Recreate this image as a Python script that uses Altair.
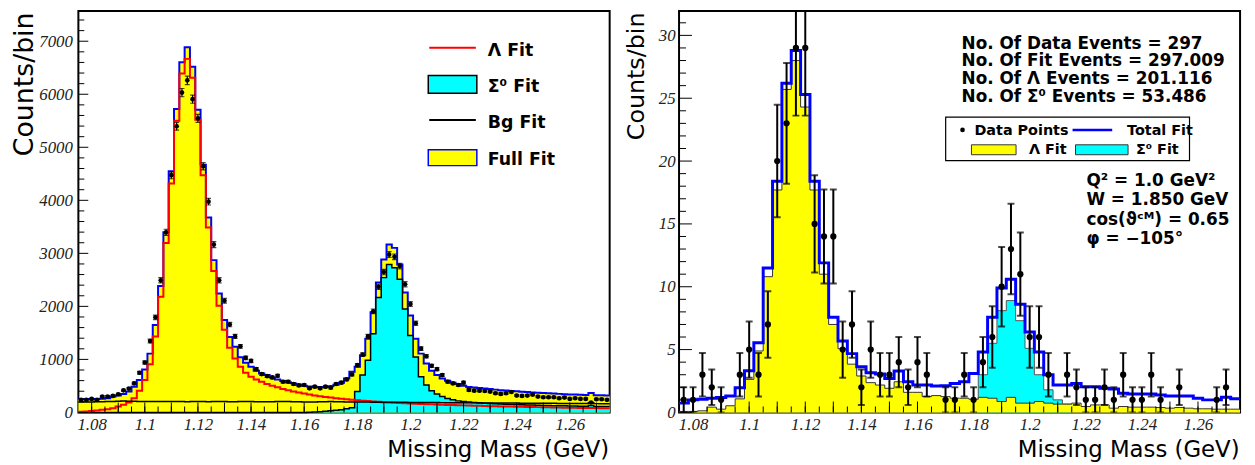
import altair as alt
import numpy as np
import pandas as pd

X_LO, X_HI = 1.075, 1.275
X_LABELS = [1.08, 1.10, 1.12, 1.14, 1.16, 1.18, 1.20, 1.22, 1.24, 1.26]

# ---------------- left panel: 100 bins of 0.002 GeV ----------------
L_BIN = 0.002
L_full = [255, 255, 250, 255, 258, 268, 299, 318, 349, 393,
          486, 610, 810, 1109, 1650, 2386, 3396, 4548, 5720, 6604,
          6885, 6517, 5707, 4673, 3676, 2872, 2243, 1745, 1421, 1240,
          1040, 935, 860, 785, 735, 704, 660, 623, 592, 567,
          548, 523, 505, 490, 480, 478, 478, 495, 520, 560,
          640, 766, 860, 1078, 1389, 1888, 2449, 2885, 3165, 3103,
          2791, 2262, 1826, 1389, 1109, 922, 785, 704, 642, 598,
          561, 536, 505, 480, 470, 460, 450, 440, 430, 420,
          412, 405, 398, 390, 385, 378, 372, 366, 360, 355,
          350, 345, 340, 336, 332, 330, 365, 326, 322, 320]
L_lambda = [12, 19, 25, 37, 50, 62, 81, 112, 143, 187,
            268, 411, 611, 910, 1433, 2181, 3196, 4318, 5502, 6393,
            6667, 6312, 5520, 4474, 3489, 2667, 2012, 1558, 1221, 1016,
            860, 748, 673, 623, 579, 536, 505, 474, 442, 417,
            393, 374, 355, 336, 320, 305, 292, 280, 268, 258,
            248, 240, 232, 222, 215, 208, 200, 194, 188, 183,
            178, 173, 168, 164, 160, 156, 152, 148, 145, 142,
            139, 136, 133, 130, 127, 124, 121, 118, 116, 114,
            112, 110, 108, 106, 104, 102, 100, 98, 96, 94,
            92, 90, 88, 86, 85, 84, 83, 82, 81, 80]
L_sigma = [0] * 43 + [5, 10, 15, 22, 30, 40, 52, 68, 90,
                      393, 704, 984, 1483, 2168, 2542, 2791, 2729, 2511, 1950,
                      1452, 1047, 673, 517, 411, 349, 299, 262, 237, 218,
                      206, 196, 188, 181, 175, 170, 165, 160, 156, 152,
                      148, 145, 142, 139, 136, 133, 130, 128, 126, 124,
                      122, 120, 118, 116, 130, 113, 111, 110]
L_bg = [195, 195, 198, 200, 202, 205, 208, 212, 215, 212,
        210, 208, 206, 205, 205, 204, 206, 208, 205, 204,
        203, 205, 206, 204, 203, 205, 207, 205, 203, 202,
        204, 206, 204, 202, 200, 201, 203, 205, 206, 204,
        202, 200, 198, 197, 198, 200, 202, 204, 203, 200,
        198, 197, 196, 195, 195, 194, 193, 192, 192, 191,
        190, 190, 189, 188, 188, 187, 186, 186, 185, 184,
        184, 183, 182, 182, 181, 180, 180, 179, 178, 178,
        177, 176, 176, 175, 174, 174, 173, 172, 172, 171,
        170, 170, 169, 168, 168, 167, 185, 166, 165, 164]
L_data = [237, 237, 255, 237, 299, 299, 311, 343, 417, 449,
          548, 748, 941, 1346, 1794, 2492, 3396, 4474, 5396, 6031,
          6262, 5907, 5545, 4642, 3975, 3165, 2492, 2106, 1657, 1433,
          1246, 1028, 972, 816, 723, 685, 660, 692, 579, 579,
          536, 511, 517, 455, 486, 455, 486, 467, 536, 561,
          623, 716, 891, 1090, 1433, 1907, 2368, 2648, 2978, 2934,
          2760, 2417, 2044, 1682, 1202, 1059, 878, 816, 704, 579,
          548, 517, 561, 424, 411, 411, 405, 393, 361, 349,
          361, 386, 318, 311, 318, 336, 299, 287, 287, 287,
          268, 280, 255, 268, 255, 255, 187, 249, 249, 237]

# ---------------- right panel: 60 bins ----------------
R_BIN = 0.2 / 60
R_total = [0.74, 1.0, 1.05, 1.13, 1.18, 1.31, 1.97, 3.31, 5.55, 11.5,
           18.4, 26.2, 28.8, 25.3, 18.4, 11.9, 7.57, 5.68, 4.68, 3.63,
           3.15, 3.05, 2.7, 3.3, 2.45, 2.18, 2.18, 2.1, 2.13, 2.3,
           2.44, 3.1, 4.81, 7.57, 9.9, 10.6, 8.6, 6.4, 4.8, 3.0,
           2.18, 2.18, 2.31, 2.05, 2.05, 1.92, 1.87, 1.52, 1.47, 1.47,
           1.47, 1.39, 1.31, 1.31, 1.31, 1.13, 1.0, 1.0, 1.2, 1.08]
R_lambda = [0.08, 0.08, 0.13, 0.42, 0.26, 0.53, 1.08, 2.63, 4.89, 10.8,
            17.7, 25.7, 28.0, 24.3, 17.7, 11.0, 7.0, 5.07, 3.84, 2.9,
            2.37, 2.18, 1.92, 2.44, 1.6, 1.6, 1.26, 1.34, 1.26, 1.13,
            1.13, 1.05, 1.2, 1.13, 0.87, 1.2, 0.74, 0.74, 0.87, 0.74,
            0.66, 0.66, 0.74, 0.47, 0.6, 0.6, 0.34, 0.47, 0.42, 0.42,
            0.42, 0.39, 0.34, 0.39, 0.34, 0.29, 0.29, 0.26, 0.26, 0.26]
R_sigma = [0] * 32 + [3.0, 5.5, 8.1, 8.9, 7.3, 5.1, 3.0, 1.8, 1.0, 0.66] + [0] * 18
R_data = [1, 1, 3, 2, 1, 0, 3, 5, 3, 7,
          20, 23, 29, 29, 15, 14, 14, 5, 7, 2,
          5, 3, 3, 4, 2, 4, 3, 0, 1, 1,
          3, 1, 4, 6, 10, 13, 11, 6, 6, 3,
          0, 3, 2, 1, 1, 2, 1, 3, 1, 1,
          3, 1, 0, 2, 0, 0, 0, 1, 2, 0]

INFO_LINES = ["No. Of Data Events = 297", "No. Of Fit Events = 297.009",
              "No. Of Λ Events = 201.116", "No. Of Σ⁰ Events = 53.486"]
KIN_LINES = ["Q² = 1.0 GeV²", "W = 1.850 GeV", "cos(ϑᶜᴹ) = 0.65", "φ = −105°"]

FONT = "DejaVu Sans"
NUMFONT = "Liberation Serif"

L_W, L_H, L_YMAX = 536, 405, 7570
R_W, R_H, R_YMAX = 566, 405, 31.94


def steps(vals, width):
    n = len(vals)
    return pd.DataFrame({"x": [X_LO + width * i for i in range(n + 1)],
                         "y": list(vals) + [vals[-1]]})


def points(vals, width):
    v = np.asarray(vals, dtype=float)
    e = np.sqrt(v)
    df = pd.DataFrame({"x": X_LO + width * (np.arange(len(v)) + 0.5),
                       "y": v, "lo": v - e, "hi": v + e})
    return df[df["y"] > 0].reset_index(drop=True)


def x_axis(W):
    return alt.Axis(values=X_LABELS, format=".2~f", ticks=False, domain=False, grid=False,
                    labelFont=NUMFONT, labelFontStyle="italic", labelFontSize=17,
                    labelColor="#222", labelPadding=4,
                    title="Missing Mass (GeV)", titleFont=FONT, titleFontSize=23,
                    titleFontWeight="normal", titleColor="black", titleAlign="right",
                    titleBaseline="alphabetic", titleX=W - 1, titleY=44)


def y_axis(vals, title_x, title_size, pad):
    return alt.Axis(values=vals, format="d", ticks=False, domain=False, grid=False,
                    labelFont=NUMFONT, labelFontStyle="italic", labelFontSize=17,
                    labelColor="#222", labelPadding=pad,
                    title="Counts/bin", titleFont=FONT, titleFontSize=title_size,
                    titleFontWeight="normal", titleColor="black", titleAngle=270,
                    titleAlign="right", titleBaseline="middle", titleX=title_x, titleY=1)


dummy = pd.DataFrame({"d": [0]})


def txt(s, x, y, size, weight="bold"):
    return alt.Chart(dummy).mark_text(text=s, align="left", baseline="alphabetic", font=FONT,
                                      fontSize=size, fontWeight=weight, color="black").encode(
        x=alt.value(x), y=alt.value(y))


def hline(x1, x2, y, color, w):
    return alt.Chart(dummy).mark_rule(color=color, strokeWidth=w).encode(
        x=alt.value(x1), x2=alt.value(x2), y=alt.value(y))


def box(x1, x2, y1, y2, fill, stroke, w):
    return alt.Chart(dummy).mark_rect(fill=fill, stroke=stroke, strokeWidth=w).encode(
        x=alt.value(x1), x2=alt.value(x2), y=alt.value(y1), y2=alt.value(y2))


xticks_major = [round(0.01 * k, 3) for k in range(108, 128)]
xticks_minor = [round(0.005 * k, 3) for k in range(216, 255)]


def build_panel(xs, ys, xax, yax, W, H, binw, fills, lines, data, pt_size, cap, ew,
                ytick_minor, ytick_major, ymaj_len, xmaj_len, extras):
    X = lambda f: alt.X(f, type="quantitative", scale=xs, axis=xax)
    Y = lambda f: alt.Y(f, type="quantitative", scale=ys, axis=yax)
    layers = []
    for kind, vals, style in fills + lines:
        base = alt.Chart(steps(vals, binw))
        if kind == "area":
            layers.append(base.mark_area(interpolate="step-after", **style).encode(x=X("x"), y=Y("y")))
        else:
            layers.append(base.mark_line(interpolate="step-after", **style).encode(x=X("x"), y=Y("y")))
    pts = alt.Chart(points(data, binw))
    layers += [
        pts.mark_rule(color="black", strokeWidth=ew, clip=True).encode(x=X("x"), y=Y("lo"), y2="hi"),
        pts.mark_tick(orient="horizontal", size=cap, thickness=ew, color="black", clip=True).encode(x=X("x"), y=Y("hi")),
        pts.mark_tick(orient="horizontal", size=cap, thickness=ew, color="black", clip=True).encode(x=X("x"), y=Y("lo")),
        pts.mark_point(filled=True, size=pt_size, color="black", opacity=1, clip=True).encode(x=X("x"), y=Y("y")),
        alt.Chart(pd.DataFrame({"t": ytick_minor})).mark_rule(color="black", strokeWidth=1).encode(
            y=Y("t"), x=alt.value(0), x2=alt.value(ymaj_len // 2 + 1)),
        alt.Chart(pd.DataFrame({"t": ytick_major})).mark_rule(color="black", strokeWidth=1).encode(
            y=Y("t"), x=alt.value(0), x2=alt.value(ymaj_len)),
        alt.Chart(pd.DataFrame({"t": xticks_minor})).mark_rule(color="black", strokeWidth=1).encode(
            x=X("t"), y=alt.value(H), y2=alt.value(H - 6)),
        alt.Chart(pd.DataFrame({"t": xticks_major})).mark_rule(color="black", strokeWidth=1).encode(
            x=X("t"), y=alt.value(H), y2=alt.value(H - xmaj_len)),
    ]
    layers += extras
    return alt.layer(*layers).properties(width=W, height=H)


# ---------------- left panel ----------------
xsL = alt.Scale(domain=[X_LO, X_HI], nice=False, zero=False)
ysL = alt.Scale(domain=[0, L_YMAX], nice=False, zero=True)
left = build_panel(
    xsL, ysL, x_axis(L_W), y_axis(list(range(0, 8000, 1000)), -54, 27, 6), L_W, L_H, L_BIN,
    fills=[("area", L_full, dict(color="#ffff00")),
           ("line", L_full, dict(color="#0000ff", strokeWidth=2)),
           ("area", L_sigma, dict(color="#00ffff")),
           ("line", L_sigma, dict(color="black", strokeWidth=1.5))],
    lines=[("line", L_lambda, dict(color="#ff0000", strokeWidth=2)),
           ("line", L_bg, dict(color="black", strokeWidth=1.5))],
    data=L_data, pt_size=22, cap=5, ew=1.2,
    ytick_minor=[v for v in range(0, 7600, 200) if v % 1000],
    ytick_major=list(range(0, 7600, 1000)), ymaj_len=10, xmaj_len=10,
    extras=[
        hline(354, 401, 37, "#ff0000", 2), txt("Λ Fit", 413, 45, 17.5),
        box(353, 402, 65, 83, "#00ffff", "black", 1.5), txt("Σ⁰ Fit", 413, 82, 17.5),
        hline(354, 401, 110, "black", 2), txt("Bg Fit", 413, 118, 17.5),
        box(353, 402, 140, 156, "#ffff00", "#0000ff", 1.5), txt("Full Fit", 413, 155, 17.5),
    ])

# ---------------- right panel ----------------
xsR = alt.Scale(domain=[X_LO, X_HI], nice=False, zero=False)
ysR = alt.Scale(domain=[0, R_YMAX], nice=False, zero=True)
info = [txt(s, 285, 38 + 17.8 * i, 17) for i, s in enumerate(INFO_LINES)]
kin = [txt(s, 411, 177 + 19.2 * i, 17) for i, s in enumerate(KIN_LINES)]
legend_r = [
    box(269, 515, 107, 151, "white", "black", 1.2),
    alt.Chart(dummy).mark_point(filled=True, size=22, color="black", opacity=1).encode(
        x=alt.value(286), y=alt.value(120)),
    txt("Data Points", 298, 125, 14.5),
    hline(397, 437, 120, "#0000ff", 2.5),
    txt("Total Fit", 452, 125, 14.5),
    box(295, 340, 135, 145, "#ffff00", "#333333", 1),
    txt("Λ Fit", 353, 144, 14.5),
    box(400, 453, 135, 145, "#00ffff", "#333333", 1),
    txt("Σ⁰ Fit", 461, 144, 14.5),
]
right = build_panel(
    xsR, ysR, x_axis(R_W), y_axis(list(range(0, 31, 5)), -43, 24, 4), R_W, R_H, R_BIN,
    fills=[("area", R_sigma, dict(color="#00ffff")),
           ("line", R_sigma, dict(color="#555555", strokeWidth=1)),
           ("area", R_lambda, dict(color="#ffff00")),
           ("line", R_lambda, dict(color="#333333", strokeWidth=1))],
    lines=[("line", R_total, dict(color="#0000ff", strokeWidth=3))],
    data=R_data, pt_size=40, cap=7, ew=2,
    ytick_minor=[v for v in range(0, 32) if v % 5],
    ytick_major=list(range(0, 32, 5)), ymaj_len=13, xmaj_len=11,
    extras=info + kin + legend_r)

chart = alt.hconcat(left, right, spacing=9).properties(
    padding={"left": 2, "top": 0, "right": 0, "bottom": 0}, background="white"
).configure_view(stroke="black", strokeWidth=2)

chart.save("out.html", embed_options={"renderer": "svg", "actions": False})
